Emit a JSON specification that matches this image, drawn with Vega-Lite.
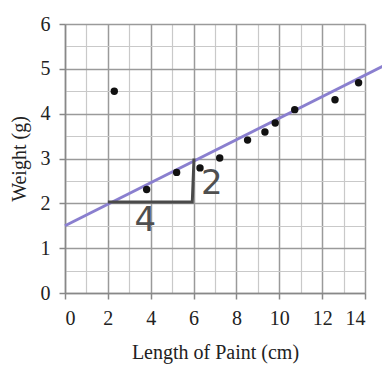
{
  "$schema": "https://vega.github.io/schema/vega-lite/v6.json",
  "width": 300,
  "height": 269,
  "autosize": {"type": "none"},
  "padding": {"left": 65, "top": 24, "right": 17, "bottom": 93},
  "background": "white",
  "config": {
    "view": {"stroke": null},
    "axis": {
      "labelFont": "Liberation Serif",
      "titleFont": "Liberation Serif",
      "labelFontSize": 20,
      "titleFontSize": 20,
      "titleFontWeight": "normal",
      "labelColor": "#222",
      "titleColor": "#222",
      "domainColor": "#888",
      "domainWidth": 1.5
    }
  },
  "datasets": {
    "points": [
      {"length": 2.3, "weight": 4.5},
      {"length": 3.81, "weight": 2.31},
      {"length": 5.21, "weight": 2.69},
      {"length": 6.3, "weight": 2.79},
      {"length": 7.22, "weight": 3.01},
      {"length": 8.52, "weight": 3.41},
      {"length": 9.33, "weight": 3.59},
      {"length": 9.81, "weight": 3.79},
      {"length": 10.72, "weight": 4.09},
      {"length": 12.6, "weight": 4.31},
      {"length": 13.7, "weight": 4.69}
    ],
    "fit": [
      {"length": 0, "weight": 1.5},
      {"length": 15, "weight": 5.1}
    ],
    "triangle": [
      {"step": 1, "length": 2.0, "weight": 2.03},
      {"step": 2, "length": 5.94, "weight": 2.03},
      {"step": 3, "length": 6.02, "weight": 3.0}
    ],
    "notes": [
      {"length": 3.75, "weight": 1.6, "label": "4"},
      {"length": 6.85, "weight": 2.44, "label": "2"}
    ]
  },
  "encoding": {
    "x": {
      "field": "length",
      "type": "quantitative",
      "scale": {"domain": [0, 14], "nice": false, "zero": false},
      "axis": {
        "title": "Length of Paint (cm)",
        "values": [0,1,2,3,4,5,6,7,8,9,10,11,12,13,14],
        "labelExpr": "datum.value % 2 === 0 ? format(datum.value, 'd') : ''",
        "grid": true,
        "gridColor": {"condition": {"test": "datum.value % 2 === 0", "value": "#9a9a9a"}, "value": "#c9c9c9"},
        "gridWidth": {"condition": {"test": "datum.value % 2 === 0", "value": 1.5}, "value": 1.2},
        "tickOpacity": {"condition": {"test": "datum.value % 2 === 0", "value": 1}, "value": 0},
        "tickColor": "#888",
        "tickSize": 6,
        "tickWidth": 1.5,
        "labelPadding": 9,
        "titlePadding": 14
      }
    },
    "y": {
      "field": "weight",
      "type": "quantitative",
      "scale": {"domain": [0, 6], "nice": false, "zero": false},
      "axis": {
        "title": "Weight (g)",
        "values": [0,0.5,1,1.5,2,2.5,3,3.5,4,4.5,5,5.5,6],
        "labelExpr": "datum.value % 1 === 0 ? format(datum.value, 'd') : ''",
        "grid": true,
        "gridColor": {"condition": {"test": "datum.value % 1 === 0", "value": "#9a9a9a"}, "value": "#c9c9c9"},
        "gridWidth": {"condition": {"test": "datum.value % 1 === 0", "value": 1.5}, "value": 1.2},
        "tickOpacity": {"condition": {"test": "datum.value % 1 === 0", "value": 1}, "value": 0},
        "tickColor": "#888",
        "tickSize": 6,
        "tickWidth": 1.5,
        "labelPadding": 9,
        "titlePadding": 11
      }
    }
  },
  "layer": [
    {
      "data": {"name": "fit"},
      "mark": {"type": "line", "color": "#8a7fcf", "strokeWidth": 3, "clip": false}
    },
    {
      "data": {"name": "triangle"},
      "mark": {"type": "line", "color": "#4a4a4a", "strokeWidth": 3, "strokeJoin": "miter"},
      "encoding": {"order": {"field": "step", "type": "quantitative"}}
    },
    {
      "data": {"name": "points"},
      "mark": {"type": "circle", "color": "#111", "opacity": 1, "size": 55}
    },
    {
      "data": {"name": "notes"},
      "mark": {"type": "text", "font": "DejaVu Sans", "fontSize": 34, "fontWeight": "normal", "color": "#4f4f4f", "baseline": "middle", "align": "center"},
      "encoding": {"text": {"field": "label"}}
    }
  ]
}
